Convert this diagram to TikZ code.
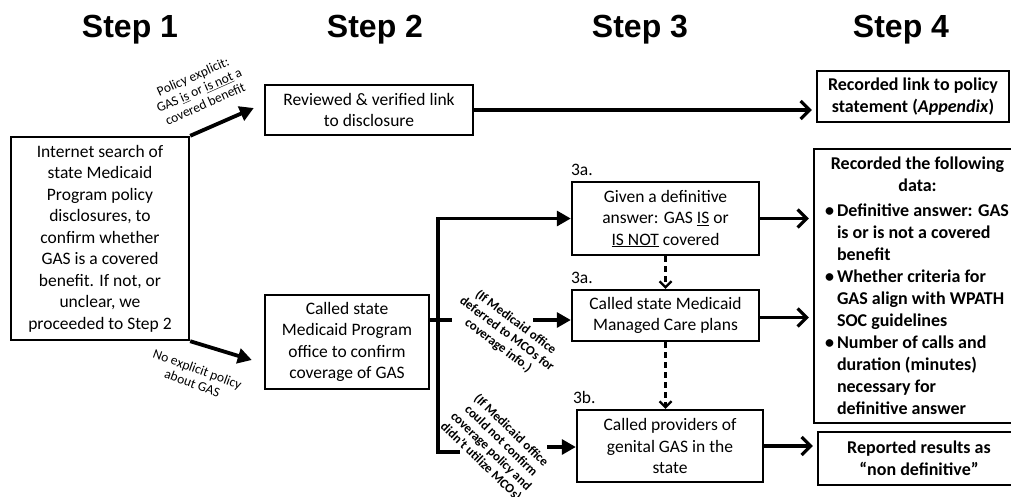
\documentclass[tikz,border=0pt]{standalone}
\usepackage{fontspec}
\setmainfont{Carlito}
\newfontfamily\headfont{Liberation Sans}
\usetikzlibrary{arrows.meta,positioning}

\newcommand{\databullet}{\makebox[12pt][l]{\textbullet}}
\newcommand{\datagap}{\hspace*{12pt}}

\tikzset{
  stephead/.style={anchor=base, inner sep=0pt, font=\headfont\fontsize{32}{36}\selectfont\bfseries},
  box/.style={draw, line width=2.4pt, align=center, inner sep=0pt, font=\fontsize{17.5}{21.5}\selectfont},
  boldbox/.style={box, font=\fontsize{18}{22}\selectfont\bfseries},
  note/.style={align=center, inner sep=1pt, font=\fontsize{13.5}{15}\selectfont},
  boldnote/.style={note, font=\fontsize{13}{14.5}\selectfont\bfseries},
  substep/.style={anchor=south west, inner sep=0pt, font=\fontsize{17.5}{21.5}\selectfont},
  flow/.style={line width=3.2pt},
  fwd/.style={flow, -{Triangle[length=14pt,width=15pt]}},
  rec/.style={flow, shorten >=4pt, -{Straight Barb[length=9pt,width=18pt]}},
  chk/.style={line width=2.2pt, dash pattern=on 6pt off 4pt, -{Straight Barb[length=6pt,width=12pt]}},
}

\begin{document}
\begin{tikzpicture}[x=1pt,y=-1pt]
    \useasboundingbox (0,0) rectangle (1011,496);

    % Headings
    \node[stephead] (head1) at (130,37) {Step 1};
    \node[stephead] (head2) at (375,37) {Step 2};
    \node[stephead] (head3) at (640,37) {Step 3};
    \node[stephead] (head4) at (901,37) {Step 4};

    % Step 1
    \node[box, minimum width=178pt, minimum height=203pt] (search) at (100,238.5)
      {Internet search of\\state Medicaid\\Program policy\\disclosures, to\\confirm whether\\GAS is a covered\\benefit. If not, or\\unclear, we\\proceeded to Step 2};

    % Step 2
    \node[box, minimum width=208pt, minimum height=50pt] (review) at (369,110)
      {Reviewed \& verified link\\to disclosure};
    \node[box, minimum width=164pt, minimum height=94pt] (called) at (347,342)
      {Called state\\Medicaid Program\\office to confirm\\coverage of GAS};

    % Step 3
    \node[box, minimum width=187pt, minimum height=73pt] (given) at (665.5,218.5)
      {Given a definitive\\answer: GAS \underline{IS} or\\\underline{IS NOT} covered};
    \node[box, minimum width=187pt, minimum height=51pt] (mco) at (665.5,315.5)
      {Called state Medicaid\\Managed Care plans};
    \node[box, minimum width=186pt, minimum height=72pt] (prov) at (670,446)
      {Called providers of\\genital GAS in the\\state};
    \node[substep] (sub1) at ([yshift=5pt]given.north west) {3a.};
    \node[substep] (sub2) at ([yshift=5pt]mco.north west) {3a.};
    \node[substep] (sub3) at ([xshift=-3pt,yshift=5pt]prov.north west) {3b.};

    % Step 4
    \node[boldbox, minimum width=192pt, minimum height=51pt] (link) at (913,96.5)
      {Recorded link to policy\\statement (\textit{Appendix})};
    \node[boldbox, inner xsep=11pt, minimum height=274pt] (data) at (925,286)
      {\begin{minipage}{200pt}\raggedright
       \makebox[185pt][c]{Recorded the following}\\
       \makebox[185pt][c]{data:}\\[3pt]
       \databullet Definitive answer: GAS\\
       \datagap is or is not a covered\\
       \datagap benefit\\
       \databullet Whether criteria for\\
       \datagap GAS align with WPATH\\
       \datagap SOC guidelines\\
       \databullet Number of calls and\\
       \datagap duration (minutes)\\
       \datagap necessary for\\
       \datagap definitive answer
       \end{minipage}};
    \node[boldbox, minimum width=202pt, minimum height=53pt] (reported) at (919,458.5)
      {Reported results as\\“non definitive”};

    % Step 1 -> Step 2
    \draw[fwd, line width=3.8pt] (search.north east) -- ([xshift=-10pt,yshift=2pt]review.west);
    \draw[fwd, line width=3.8pt] (search.south east) -- ([xshift=-12pt,yshift=-18pt]called.west);
    \node[note, rotate=24] (explicit) at (199,90)
      {Policy explicit:\\GAS \underline{is} or \underline{is not} a\\covered benefit};
    \node[note, rotate=-20] (noexplicit) at (195,376) {No explicit policy\\about GAS};

    % Step 2 -> Step 3
    \coordinate (fork) at (438,320);
    \coordinate (forkend) at (438,452);
    \coordinate (midgap) at (533,320);
    \coordinate (lowgap) at (547,447);
    \draw[flow] (called.east |- fork) -- (fork) -- ++(14,0);
    \draw[fwd] (fork) |- (given.west);
    \draw[flow] (fork) -- (forkend) -- ++(22,0);
    \draw[fwd] (midgap) -- (midgap -| mco.west);
    \draw[fwd] (lowgap) -- (lowgap -| prov.west);
    \node[boldnote, rotate=-37] (deferred) at (507,334)
      {(If Medicaid office\\deferred to MCOs for\\coverage info.)};
    \node[boldnote, rotate=-44] (noconfirm) at (496,446)
      {(If Medicaid office\\could not confirm\\coverage policy and\\didn’t utilize MCOs)};

    % Step 3 checks
    \draw[chk] (given.south) -- (mco.north);
    \draw[chk] (mco.south) -- (mco.south |- prov.north);

    % To Step 4
    \draw[rec] (review.east) -- (review.east -| link.west);
    \draw[rec] (given.east) -- (given.east -| data.west);
    \draw[rec] ([yshift=-2pt]mco.east) -- ([yshift=-2pt]mco.east -| data.west);
    \draw[rec] (prov.east) -- (prov.east -| reported.west);
\end{tikzpicture}
\end{document}
